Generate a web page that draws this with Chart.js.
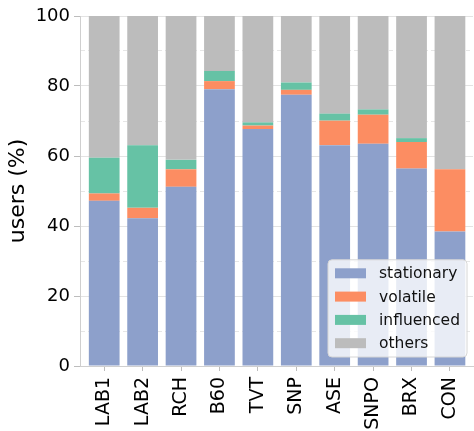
<!DOCTYPE html>
<html>
<head>
<meta charset="utf-8">
<script src="https://cdn.jsdelivr.net/npm/chart.js@4"></script>
<style>
  html, body { margin: 0; padding: 0; background: #fff; }
  #wrap { width: 474px; height: 431px; }
</style>
</head>
<body>
<div id="wrap"><canvas id="myChart" width="474" height="431"></canvas></div>
<script>
const categories = ['LAB1', 'LAB2', 'RCH', 'B60', 'TVT', 'SNP', 'ASE', 'SNPO', 'BRX', 'CON']
const stationary = [47.2, 42.2, 51.2, 79.1, 67.7, 77.5, 63.1, 63.5, 56.4, 38.4]
const volatile = [2.1, 3.0, 5.0, 2.3, 1.0, 1.4, 7.0, 8.3, 7.6, 17.8]
const influenced = [10.2, 17.9, 2.7, 2.9, 0.9, 2.1, 2.0, 1.5, 1.1, 0]
const others = stationary.map((s, i) => +(100 - s - volatile[i] - influenced[i]).toFixed(1))
const yTicks = [0, 20, 40, 60, 80, 100]

const FONT = 'DejaVu Sans'

// bars sit on a numeric x axis so the side margins can be matched
const toPoints = (arr) => arr.map((v, i) => ({ x: i, y: v }))

// legend drawn inside the plot, lower right, like matplotlib's
const innerLegend = {
  id: 'innerLegend',
  afterDraw(chart) {
    const { ctx, chartArea } = chart
    const sets = chart.data.datasets
    const boxW = 139, rowH = 23.3
    const boxH = rowH * sets.length + 4
    const x = chartArea.right - 6 - boxW
    const y = chartArea.bottom - 9 - boxH
    ctx.save()
    ctx.beginPath()
    ctx.roundRect(x, y, boxW, boxH, 4)
    ctx.fillStyle = 'rgba(255,255,255,0.8)'
    ctx.fill()
    ctx.strokeStyle = '#d6d6d6'
    ctx.lineWidth = 1
    ctx.stroke()
    ctx.font = '15.5px ' + FONT
    ctx.textBaseline = 'middle'
    sets.forEach((ds, i) => {
      const cy = y + 13.5 + i * rowH
      ctx.fillStyle = ds.backgroundColor
      ctx.fillRect(x + 7, cy - 5, 31, 10)
      ctx.fillStyle = '#111'
      ctx.fillText(ds.label, x + 51, cy + 1)
    })
    ctx.restore()
  },
}

;(() => {
  const ctx = document.getElementById('myChart').getContext('2d')
  Chart.defaults.font.family = FONT
  Chart.defaults.color = '#111'
  new Chart(ctx, {
    type: 'bar',
    data: {
      datasets: [
        { label: 'stationary', data: toPoints(stationary), backgroundColor: '#8da0cb' },
        { label: 'volatile', data: toPoints(volatile), backgroundColor: '#fc8d62' },
        { label: 'influenced', data: toPoints(influenced), backgroundColor: '#66c2a5' },
        { label: 'others', data: toPoints(others), backgroundColor: '#bcbcbc' },
      ],
    },
    options: {
      responsive: false,
      animation: false,
      layout: { padding: { top: 16, right: 1, left: 0, bottom: 0 } },
      datasets: { bar: { barPercentage: 0.8, categoryPercentage: 1, borderWidth: 0 } },
      plugins: { legend: { display: false }, tooltip: { enabled: false } },
      scales: {
        x: {
          type: 'linear',
          stacked: true,
          offset: false,
          min: -0.63,
          max: 9.6,
          afterFit: (s) => {
            s.height = 65
            s.paddingLeft = 0
            s.paddingRight = 0
          },
          afterBuildTicks: (s) => {
            s.ticks = categories.map((c, i) => ({ value: i }))
          },
          grid: { offset: false, drawOnChartArea: false, tickLength: 5, tickColor: '#bdbdbd', tickWidth: 1 },
          border: { color: '#cfcfcf' },
          ticks: {
            autoSkip: false,
            minRotation: 90,
            maxRotation: 90,
            padding: 6,
            font: { size: 19 },
            color: '#000',
            callback: (v) => categories[v],
          },
        },
        y: {
          stacked: true,
          min: 0,
          max: 100,
          afterFit: (s) => {
            s.width = 80
            s.paddingTop = 0
            s.paddingBottom = 0
          },
          afterBuildTicks: (s) => {
            s.ticks = []
            for (let v = 0; v <= 100; v += 10) s.ticks.push({ value: v })
          },
          grid: {
            color: (c) => (c.tick && c.tick.value % 20 !== 0 ? '#e6e6e6' : '#e3e3e3'),
            lineWidth: 1,
            tickLength: 6,
            tickColor: (c) => (c.tick && c.tick.value % 20 !== 0 ? 'rgba(0,0,0,0)' : '#bdbdbd'),
          },
          border: {
            color: '#cfcfcf',
            dash: (c) => (c.tick && c.tick.value % 20 !== 0 ? [4, 3] : []),
          },
          ticks: {
            padding: 4,
            font: { size: 18 },
            color: '#000',
            callback: (v) => (yTicks.includes(v) ? v : ''),
          },
          title: { display: true, text: 'users (%)', font: { size: 22 }, color: '#000', padding: { top: 5, bottom: 0 } },
        },
      },
    },
    plugins: [innerLegend],
  })
})()
</script>
</body>
</html>
